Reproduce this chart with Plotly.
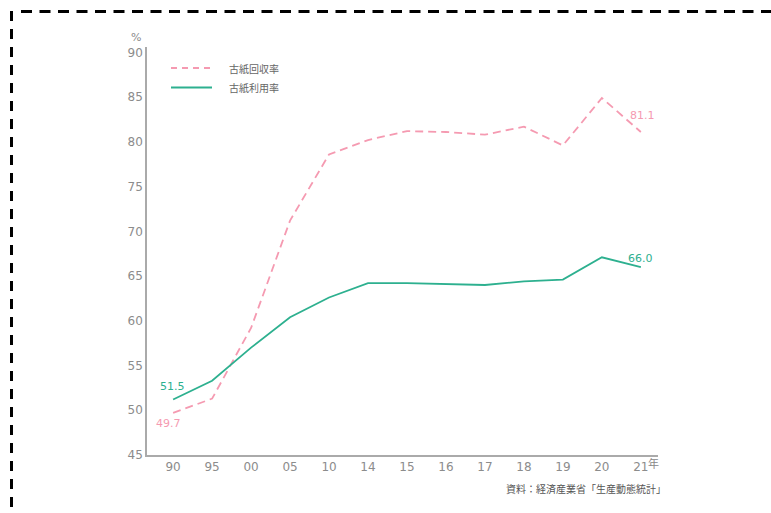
import plotly.graph_objects as go

years = ["90", "95", "00", "05", "10", "14", "15", "16", "17", "18", "19", "20", "21"]
recovery = [49.7, 51.3, 59.2, 71.2, 78.6, 80.2, 81.2, 81.1, 80.8, 81.7, 79.6, 84.9, 81.1]
utilization = [51.2, 53.3, 57.0, 60.4, 62.6, 64.2, 64.2, 64.1, 64.0, 64.4, 64.6, 67.1, 66.0]
y_ticks = [45, 50, 55, 60, 65, 70, 75, 80, 85, 90]
names = ["古紙回収率", "古紙利用率"]
source = "資料：経済産業省「生産動態統計」"

PINK = "#F59AB1"
GREEN = "#2DB08F"
FONT = "Noto Sans CJK JP"
NUMFONT = "DejaVu Sans"

W, H = 771, 513
L, R, T, B = 147, 113, 47, 58
pw, ph = W - L - R, H - T - B


def px(x):
    return (x - L) / pw


def py(y):
    return (H - B - y) / ph


first, last = 0, len(years) - 1

fig = go.Figure()
fig.add_trace(go.Scatter(x=years, y=recovery, mode="lines", name=names[0],
                         line=dict(color=PINK, width=1.8, dash="8px,5px"),
                         showlegend=False, hoverinfo="skip"))
fig.add_trace(go.Scatter(x=years, y=utilization, mode="lines", name=names[1],
                         line=dict(color=GREEN, width=1.8),
                         showlegend=False, hoverinfo="skip"))

shapes = []
# legend samples
shapes.append(dict(type="line", xref="paper", yref="paper", x0=px(171), x1=px(212),
                   y0=py(68), y1=py(68), line=dict(color=PINK, width=1.8, dash="6px,5px")))
shapes.append(dict(type="line", xref="paper", yref="paper", x0=px(171), x1=px(212),
                   y0=py(87.5), y1=py(87.5), line=dict(color=GREEN, width=2)))
# dashed frame
shapes.append(dict(type="line", xref="paper", yref="paper", x0=px(21), x1=px(775),
                   y0=py(11.5), y1=py(11.5), line=dict(color="black", width=3, dash="11px,7.5px")))
shapes.append(dict(type="line", xref="paper", yref="paper", x0=px(11.5), x1=px(11.5),
                   y0=py(11), y1=py(520), line=dict(color="black", width=3, dash="10px,8px")))

numfont = dict(family=NUMFONT, size=12, color="#8c8c8c")
annotations = [
    dict(text=names[0], xref="paper", yref="paper", x=px(227), y=py(68), xanchor="left",
         yanchor="middle", showarrow=False, font=dict(size=10, color="#666", family=FONT)),
    dict(text=names[1], xref="paper", yref="paper", x=px(227), y=py(87), xanchor="left",
         yanchor="middle", showarrow=False, font=dict(size=10, color="#666", family=FONT)),
    dict(text="%", xref="paper", yref="paper", x=px(136), y=py(37), xanchor="center",
         yanchor="middle", showarrow=False, font=dict(numfont, size=11)),
    dict(text="年", xref="paper", yref="paper", x=px(653), y=py(463), xanchor="center",
         yanchor="middle", showarrow=False, font=dict(size=11, color="#888", family=FONT)),
    dict(text=source, xref="paper", yref="paper", x=px(668), y=py(489), xanchor="right",
         yanchor="middle", showarrow=False, font=dict(size=10, color="#555", family=FONT)),
    dict(text=f"{recovery[first]:.1f}", xref="x", yref="y", x=first, y=recovery[first],
         xshift=-5, yshift=-11, showarrow=False, font=dict(size=11, color=PINK, family=NUMFONT)),
    dict(text="51.5", xref="x", yref="y", x=first, y=utilization[first],
         xshift=-1, yshift=13, showarrow=False, font=dict(size=11, color=GREEN, family=NUMFONT)),
    dict(text=f"{recovery[last]:.1f}", xref="x", yref="y", x=last, y=recovery[last],
         xshift=2, yshift=17, showarrow=False, font=dict(size=11, color=PINK, family=NUMFONT)),
    dict(text=f"{utilization[last]:.1f}", xref="x", yref="y", x=last, y=utilization[last],
         xshift=0, yshift=9, showarrow=False, font=dict(size=11, color=GREEN, family=NUMFONT)),
]

fig.update_layout(
    width=W, height=H,
    margin=dict(l=L, r=R, t=T, b=B, pad=0),
    paper_bgcolor="white", plot_bgcolor="white",
    font=dict(family=FONT, color="#888", size=11),
    shapes=shapes, annotations=annotations,
    xaxis=dict(type="category", categoryorder="array", categoryarray=years,
               range=[-0.67, 12.44], showgrid=False, zeroline=False,
               showline=True, linecolor="#aaa", linewidth=1.5, ticks="",
               tickfont=numfont),
    yaxis=dict(range=[45, 90.6], tickvals=y_ticks, showgrid=False, zeroline=False,
               showline=True, linecolor="#aaa", linewidth=1.5, ticks="",
               tickfont=numfont),
)

fig.write_html("out.html")
